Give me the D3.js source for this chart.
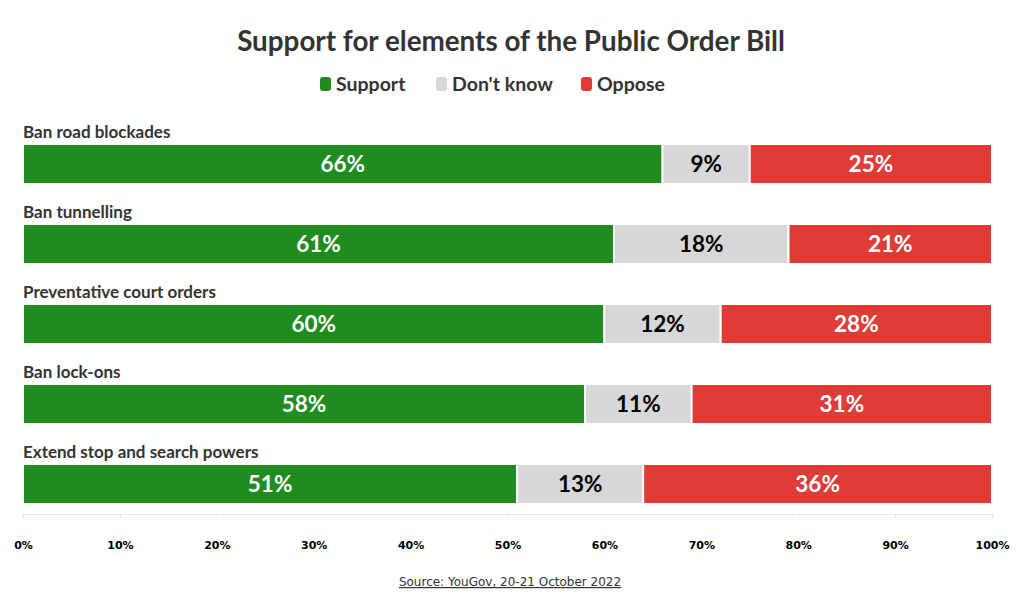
<!DOCTYPE html>
<html>
<head>
<meta charset="utf-8">
<script src="https://cdn.jsdelivr.net/npm/d3@7"></script>
<style>
  body { margin: 0; background: #fff; }
  svg text { font-family: "Lato", "Open Sans", sans-serif; }
</style>
</head>
<body>
<svg width="1020" height="602"></svg>
<script>
const categories = ["Ban road blockades", "Ban tunnelling", "Preventative court orders", "Ban lock-ons", "Extend stop and search powers"];
const seriesNames = ["Support", "Don't know", "Oppose"];
const support = [66, 61, 60, 58, 51];
const dontKnow = [9, 18, 12, 11, 13];
const oppose = [25, 21, 28, 31, 36];
const tickValues = [0, 10, 20, 30, 40, 50, 60, 70, 80, 90, 100];
const colors = ["#1e8c1e", "#d7d7d7", "#e03c37"];
const textColors = ["#fff", "#000", "#fff"];

var svg = d3.select("svg"),
    width = +svg.attr("width"),
    height = +svg.attr("height");

var rows = categories.map((c, i) => ({ name: c, values: [support[i], dontKnow[i], oppose[i]] }));

var x = d3.scaleLinear().domain([0, 100]).range([23, 992]);
var y = d3.scalePoint().domain(categories).range([144, 464]);
var barH = 40;

// Title
svg.append("text")
    .attr("x", width / 2 + 1).attr("y", 51)
    .attr("text-anchor", "middle")
    .style("font-size", "27.8px").style("font-weight", "bold").style("fill", "#333")
    .text("Support for elements of the Public Order Bill");

// Legend
var legendX = [320, 436, 581];
var legend = svg.append("g");
seriesNames.forEach((s, i) => {
    var g = legend.append("g").attr("transform", "translate(" + legendX[i] + ",77)");
    g.append("rect").attr("width", 11).attr("height", 14).attr("rx", 3).style("fill", colors[i]);
    g.append("text").attr("x", 16).attr("y", 13.5)
        .style("font-size", "19.5px").style("font-weight", "bold").style("fill", "#333")
        .text(s);
});

// Axis
var axis = svg.append("g")
    .attr("transform", "translate(0,514)")
    .call(d3.axisBottom(x).tickValues(tickValues).tickSize(5).tickFormat(d => d + "%"));
axis.select(".domain").attr("stroke", "#e6e6e6");
axis.selectAll(".tick line").attr("stroke", "#e6e6e6");
axis.selectAll(".tick text")
    .attr("y", 27)
    .style("font-family", "DejaVu Sans").style("font-size", "11px").style("font-weight", "bold").style("fill", "#000");

// Bars
var row = svg.append("g").selectAll("g")
    .data(rows)
    .enter().append("g")
    .attr("transform", d => "translate(0," + y(d.name) + ")");

row.append("text")
    .attr("x", 23).attr("y", -6)
    .style("font-size", "17px").style("font-weight", "bold").style("fill", "#333")
    .text(d => d.name);

var seg = row.selectAll("g.seg")
    .data(d => {
        var acc = 0;
        return d.values.map((v, i) => { var s = { i: i, v: v, x0: acc, x1: acc + v }; acc += v; return s; });
    })
    .enter().append("g").attr("class", "seg");

seg.append("rect")
    .attr("x", d => x(d.x0))
    .attr("width", d => x(d.x1) - x(d.x0))
    .attr("height", barH)
    .style("fill", d => colors[d.i])
    .style("stroke", "#fff").style("stroke-width", 2);

seg.append("text")
    .attr("x", d => (x(d.x0) + x(d.x1)) / 2)
    .attr("y", barH / 2 + 8)
    .attr("text-anchor", "middle")
    .style("font-size", "22.5px").style("font-weight", "bold")
    .style("fill", d => textColors[d.i])
    .text(d => d.v + "%");

// Source
svg.append("text")
    .attr("x", width / 2).attr("y", 586)
    .attr("text-anchor", "middle")
    .style("font-family", "DejaVu Sans").style("font-size", "12px").style("fill", "#333")
    .style("text-decoration", "underline")
    .text("Source: YouGov, 20-21 October 2022");
</script>
</body>
</html>
